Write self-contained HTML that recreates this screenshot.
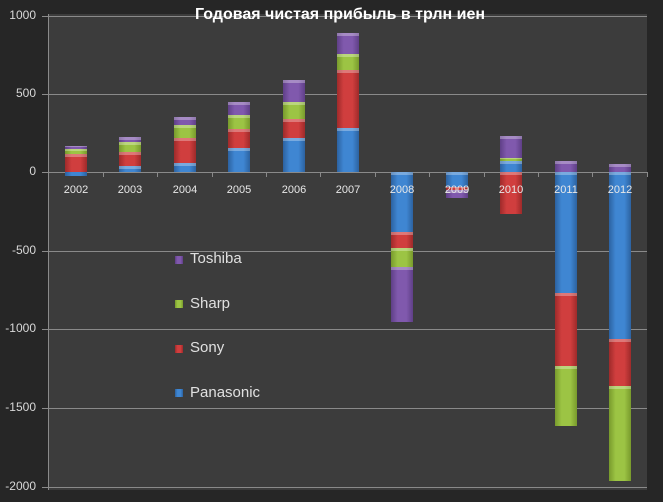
<!DOCTYPE html>
<html><head><meta charset="utf-8"><style>
body{margin:0;width:663px;height:502px;background:#262626;position:relative;overflow:hidden;font-family:"Liberation Sans",sans-serif}
.plot{position:absolute;left:48px;top:14px;width:599px;height:476px;background:#3c3c3c}
.g{position:absolute;left:42px;width:605px;height:1px;background:#8a8a8a}
.yl{position:absolute;left:0;width:36px;text-align:right;color:#d8d8d8;font-size:12px}
.xl{position:absolute;width:40px;text-align:center;color:#e8e8e8;font-size:11px;top:184px}
.t{position:absolute;top:172px;width:1px;height:5px;background:#8a8a8a}
.s{position:absolute;width:22px;box-sizing:border-box;border-top:3px solid rgba(255,255,255,.3)}
.b{background:linear-gradient(to right,#2c62a0,#3f86d2 30%,#3f86d2 70%,#2c62a0)}
.r{background:linear-gradient(to right,#9e2a2a,#d03e3e 30%,#d03e3e 70%,#9e2a2a)}
.gr{background:linear-gradient(to right,#789a2c,#9cc444 30%,#9cc444 70%,#789a2c)}
.p{background:linear-gradient(to right,#5f3f87,#8059ad 30%,#8059ad 70%,#5f3f87)}
.lg{position:absolute;left:190px;color:#e0e0e0;font-size:15px}
.lm{position:absolute;left:175px;width:8px;height:8px}
</style></head><body>
<div class="plot"></div>
<div style="position:absolute;left:48px;top:14px;width:1px;height:476px;background:#8a8a8a"></div>
<div class="g" style="top:16px"></div><div class="g" style="top:94px"></div><div class="g" style="top:172px"></div><div class="g" style="top:251px"></div><div class="g" style="top:329px"></div><div class="g" style="top:408px"></div><div class="g" style="top:487px"></div>
<div class="yl" style="top:8px">1000</div><div class="yl" style="top:86px">500</div><div class="yl" style="top:164px">0</div><div class="yl" style="top:243px">-500</div><div class="yl" style="top:321px">-1000</div><div class="yl" style="top:400px">-1500</div><div class="yl" style="top:479px">-2000</div>
<div class="t" style="left:103px"></div><div class="t" style="left:157px"></div><div class="t" style="left:212px"></div><div class="t" style="left:266px"></div><div class="t" style="left:320px"></div><div class="t" style="left:375px"></div><div class="t" style="left:429px"></div><div class="t" style="left:484px"></div><div class="t" style="left:538px"></div><div class="t" style="left:592px"></div><div class="t" style="left:647px"></div>
<div style="position:absolute;top:6px;left:160px;width:360px;text-align:center;color:#fff;font-weight:bold;font-size:16px">Годовая чистая прибыль в трлн иен</div>

<div class="s b" style="left:65px;top:172px;height:4px;border-top:0"></div><div class="s r" style="left:65px;top:154px;height:18px"></div><div class="s gr" style="left:65px;top:149px;height:5px;border-top-width:2px"></div><div class="s p" style="left:65px;top:146px;height:3px;border-top-width:1px"></div>
<div class="s b" style="left:119px;top:166px;height:6px"></div><div class="s r" style="left:119px;top:152px;height:14px"></div><div class="s gr" style="left:119px;top:142px;height:10px"></div><div class="s p" style="left:119px;top:137px;height:5px"></div>
<div class="s b" style="left:174px;top:163px;height:9px"></div><div class="s r" style="left:174px;top:138px;height:25px"></div><div class="s gr" style="left:174px;top:125px;height:13px"></div><div class="s p" style="left:174px;top:117px;height:8px"></div>
<div class="s b" style="left:228px;top:148px;height:24px"></div><div class="s r" style="left:228px;top:129px;height:19px"></div><div class="s gr" style="left:228px;top:115px;height:14px"></div><div class="s p" style="left:228px;top:102px;height:13px"></div>
<div class="s b" style="left:283px;top:138px;height:34px"></div><div class="s r" style="left:283px;top:119px;height:19px"></div><div class="s gr" style="left:283px;top:102px;height:17px"></div><div class="s p" style="left:283px;top:80px;height:22px"></div>
<div class="s b" style="left:337px;top:128px;height:44px"></div><div class="s r" style="left:337px;top:70px;height:58px"></div><div class="s gr" style="left:337px;top:54px;height:16px"></div><div class="s p" style="left:337px;top:33px;height:21px"></div>
<div class="s b" style="left:391px;top:172px;height:60px"></div><div class="s r" style="left:391px;top:232px;height:16px"></div><div class="s gr" style="left:391px;top:248px;height:19px"></div><div class="s p" style="left:391px;top:267px;height:55px"></div>
<div class="s b" style="left:446px;top:172px;height:15px"></div><div class="s r" style="left:446px;top:187px;height:3px;border-top-width:1px"></div><div class="s p" style="left:446px;top:190px;height:8px"></div>
<div class="s r" style="left:500px;top:172px;height:42px"></div><div class="s b" style="left:500px;top:161px;height:11px"></div><div class="s gr" style="left:500px;top:158px;height:3px;border-top-width:1px"></div><div class="s p" style="left:500px;top:136px;height:22px"></div>
<div class="s p" style="left:555px;top:161px;height:11px"></div><div class="s b" style="left:555px;top:172px;height:121px"></div><div class="s r" style="left:555px;top:293px;height:73px"></div><div class="s gr" style="left:555px;top:366px;height:60px"></div>
<div class="s p" style="left:609px;top:164px;height:8px"></div><div class="s b" style="left:609px;top:172px;height:167px"></div><div class="s r" style="left:609px;top:339px;height:47px"></div><div class="s gr" style="left:609px;top:386px;height:95px"></div>

<div class="xl" style="left:56px">2002</div><div class="xl" style="left:110px">2003</div><div class="xl" style="left:165px">2004</div><div class="xl" style="left:219px">2005</div><div class="xl" style="left:274px">2006</div><div class="xl" style="left:328px">2007</div><div class="xl" style="left:382px">2008</div><div class="xl" style="left:437px">2009</div><div class="xl" style="left:491px">2010</div><div class="xl" style="left:546px">2011</div><div class="xl" style="left:600px">2012</div>

<div class="lm p" style="top:256px"></div><div class="lg" style="top:250px">Toshiba</div>
<div class="lm gr" style="top:300px"></div><div class="lg" style="top:295px">Sharp</div>
<div class="lm r" style="top:345px"></div><div class="lg" style="top:339px">Sony</div>
<div class="lm b" style="top:389px"></div><div class="lg" style="top:384px">Panasonic</div>
</body></html>
